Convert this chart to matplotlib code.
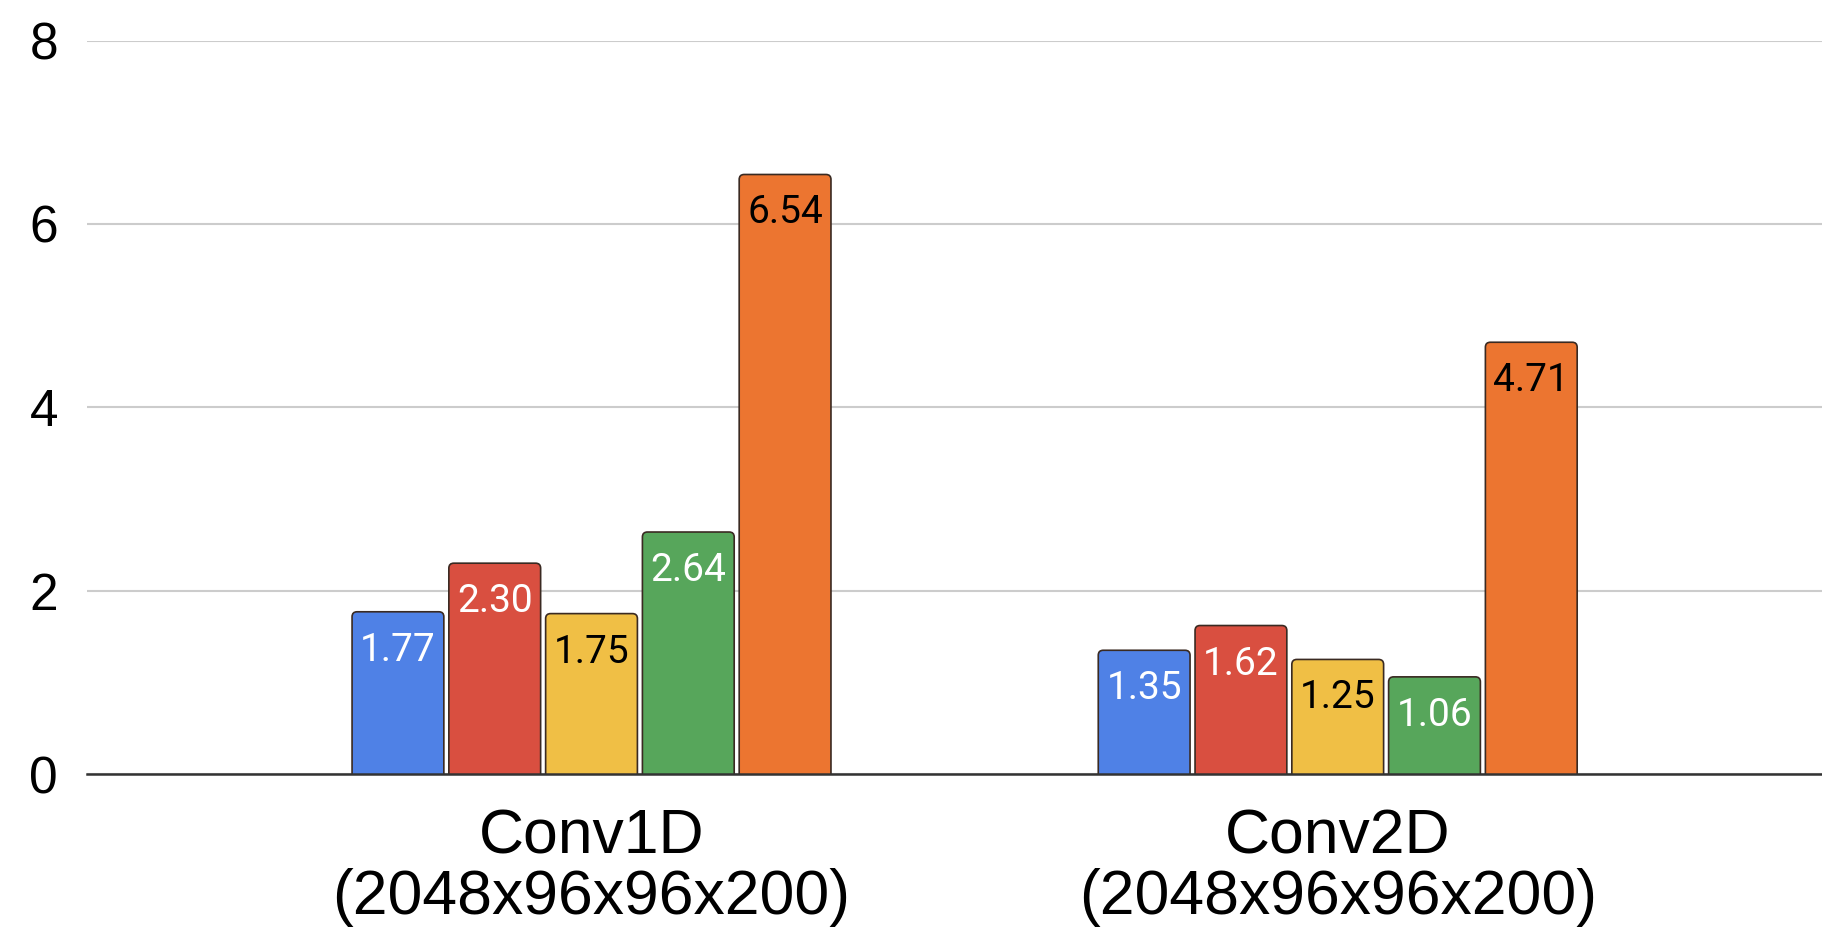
import matplotlib
matplotlib.use("Agg")
import matplotlib.pyplot as plt
from matplotlib.patches import FancyBboxPatch
import numpy as np

# Speedup per layer, grouped by convolution type
categories = ["Conv1D\n(2048x96x96x200)", "Conv2D\n(2048x96x96x200)"]
series_a = [1.77, 1.35]
series_b = [2.30, 1.62]
series_c = [1.75, 1.25]
series_d = [2.64, 1.06]
series_e = [6.54, 4.71]
y_ticks = [0, 2, 4, 6, 8]

series = [series_a, series_b, series_c, series_d, series_e]
colors = ["#4f81e6", "#d94f40", "#f0bf45", "#57a65b", "#ec7530"]
label_colors = ["white", "white", "black", "white", "black"]

fig = plt.figure(figsize=(18.22, 9.30), dpi=100)
ax = fig.add_axes([0.0478, 0.1677, 0.9522, 0.9563 - 0.1677])
ax.set_ylim(0, 8)
ax.set_xlim(-0.676, 1.649)

x = np.arange(len(categories))
width = 0.123
step = 0.1297
offsets = (np.arange(len(series)) - 2) * step

# pixel sizes of one data unit, used for the rounded bar tops
fig_w, fig_h = fig.get_size_inches() * fig.dpi
pos = ax.get_position()
px_per_x = pos.width * fig_w / (ax.get_xlim()[1] - ax.get_xlim()[0])
px_per_y = pos.height * fig_h / (ax.get_ylim()[1] - ax.get_ylim()[0])
radius_px = 5
ext = radius_px / px_per_y

for vals, off, col, lcol in zip(series, offsets, colors, label_colors):
    bars = ax.bar(x + off, vals, width, color=col, edgecolor="#3a2a22",
                  linewidth=1.2, zorder=3)
    for b, v in zip(bars, vals):
        b.set_visible(False)
        patch = FancyBboxPatch(
            (b.get_x(), -ext), b.get_width(), v + ext,
            boxstyle=f"round,pad=0,rounding_size={radius_px / px_per_x}",
            mutation_aspect=px_per_x / px_per_y,
            facecolor=col, edgecolor="#3a2a22", linewidth=1.2, zorder=3)
        ax.add_patch(patch)
        ax.annotate(f"{v:.2f}", (b.get_x() + b.get_width() / 2, v),
                    xytext=(0, -49), textcoords="offset pixels",
                    ha="center", va="baseline", fontsize=28, color=lcol,
                    family="Roboto", zorder=4)

ax.set_yticks(y_ticks)
ax.set_yticklabels([str(t) for t in y_ticks], fontsize=37, family="Liberation Sans")
ax.set_xticks(x)
ax.set_xticklabels(categories, fontsize=45, family="Liberation Sans", linespacing=1.03)
ax.tick_params(axis="both", length=0)
ax.tick_params(axis="y", pad=21)
ax.tick_params(axis="x", pad=24)
ax.yaxis.grid(True, color="#cccccc", linewidth=1.5, zorder=0)
for s in ["top", "right", "left"]:
    ax.spines[s].set_visible(False)
ax.spines["bottom"].set_color("#333333")
ax.spines["bottom"].set_linewidth(1.8)
ax.spines["bottom"].set_zorder(5)

fig.savefig("out.png", dpi=100, facecolor="white")
